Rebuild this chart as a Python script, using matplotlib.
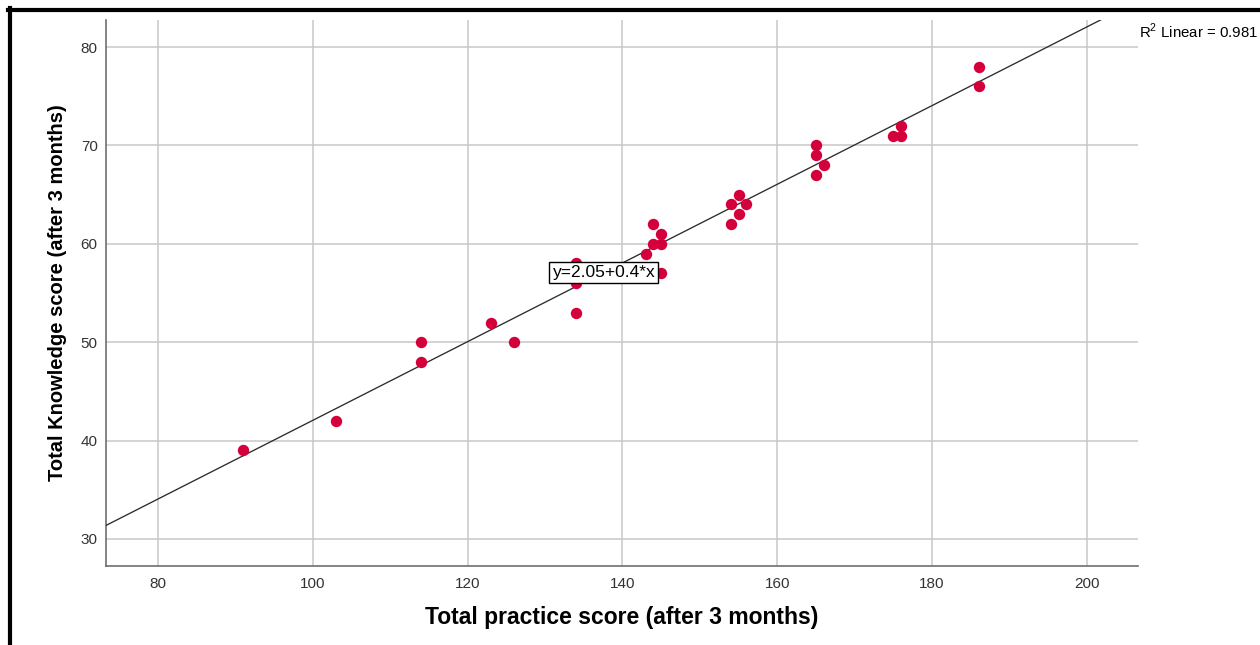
import numpy as np
import matplotlib.pyplot as plt
from matplotlib.lines import Line2D

plt.rcParams['font.family'] = ['Liberation Sans', 'DejaVu Sans']
plt.rcParams['mathtext.fontset'] = 'custom'
plt.rcParams['mathtext.rm'] = 'Liberation Sans'

# practice score vs knowledge score (after 3 months)
practice = [91, 103, 114, 114, 123, 126, 134, 134, 134, 143, 144, 144, 145, 145, 145,
            154, 154, 155, 155, 156, 165, 165, 165, 166, 175, 176, 176, 186, 186]
knowledge = [39, 42, 50, 48, 52, 50, 53, 56, 58, 59, 62, 60, 60, 61, 57,
             64, 62, 65, 63, 64, 70, 69, 67, 68, 71, 71, 72, 78, 76]

intercept = 2.05
slope = 0.4
r_squared = 0.981

x_ticks = [80, 100, 120, 140, 160, 180, 200]
y_ticks = [30, 40, 50, 60, 70, 80]

fig = plt.figure(figsize=(12.6, 6.45), dpi=100)
ax = fig.add_axes([0.0841, 0.1225, 0.8191, 0.8465])

ax.set_xlim(73.3, 206.6)
ax.set_ylim(27.25, 82.75)
ax.set_xticks(x_ticks)
ax.set_yticks(y_ticks)
ax.grid(True, color='#c8c8c8', linewidth=1.1)
ax.set_axisbelow(True)

for side in ['top', 'right']:
    ax.spines[side].set_visible(False)
for side in ['left', 'bottom']:
    ax.spines[side].set_color('#6e6e6e')
    ax.spines[side].set_linewidth(1.2)
ax.tick_params(length=0, labelsize=11, colors='#333333')
ax.tick_params(axis='y', pad=6)
ax.tick_params(axis='x', pad=8)

# fitted line over the full x range
xs = np.array(ax.get_xlim())
ax.plot(xs, intercept + slope * xs, color='#2b2b2b', linewidth=0.95, zorder=3)

ax.plot(practice, knowledge, 'o', color='#d4003b', markersize=8.2,
        markeredgewidth=0, zorder=4)

ax.text(137.6, 57.1, 'y=2.05+0.4*x', fontsize=12.5, ha='center', va='center',
        zorder=5, bbox=dict(boxstyle='square,pad=0.18', facecolor='white',
                            edgecolor='black', linewidth=1))

ax.set_xlabel('Total practice score (after 3 months)', fontsize=16.5,
              fontweight='bold', labelpad=11)
ax.set_ylabel('Total Knowledge score (after 3 months)', fontsize=14.5,
              fontweight='bold', labelpad=10)

fig.text(1139 / 1260, 1 - 31 / 645, r'$\mathrm{R}^{2}$ Linear = %.3f' % r_squared,
         fontsize=10.8, ha='left', va='center')

# black frame around the picture
fig.add_artist(Line2D([8 / 1260, 1], [1 - 10 / 645, 1 - 10 / 645],
                      color='black', linewidth=3, transform=fig.transFigure))
fig.add_artist(Line2D([10 / 1260, 10 / 1260], [0, 1 - 8 / 645],
                      color='black', linewidth=3, transform=fig.transFigure))

fig.savefig('out.png', dpi=100)
